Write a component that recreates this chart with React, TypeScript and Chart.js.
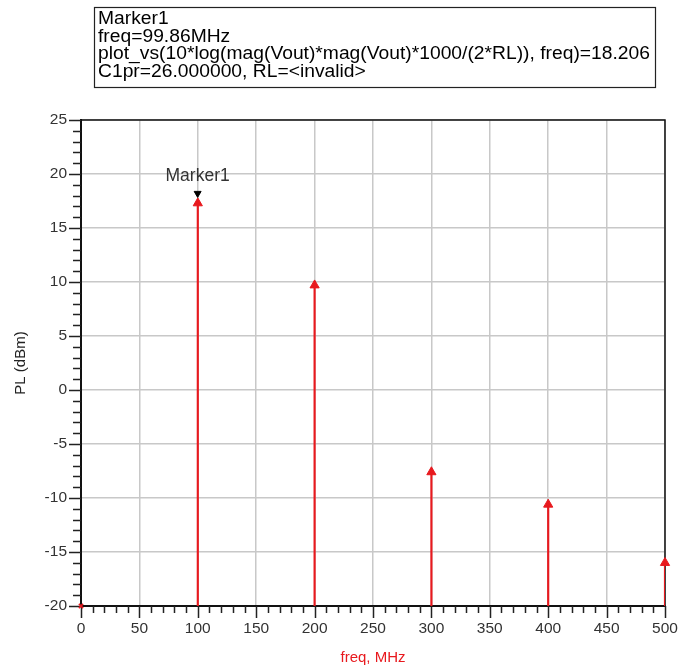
import React, { useEffect, useRef } from 'react';
import { Chart, registerables } from 'chart.js';

Chart.register(...registerables);

// ---- data ----
const freqMHz = [100, 200, 300, 400, 500];
const plDbm = [17.3, 9.7, -7.6, -10.6, -16.0];
const dcFreq = [0];
const dcPl = [-20];
const markerFreq = [99.86];
const markerPl = [18.206];
const markerName = 'Marker1';

const xMin = 0;
const xMax = 500;
const xStep = 50;
const xMinorStep = 10;
const yMin = -20;
const yMax = 25;
const yStep = 5;
const yMinorStep = 1;

const xTitle = 'freq, MHz';
const yTitle = 'PL (dBm)';

const legendLines = [
  'Marker1',
  'freq=99.86MHz',
  'plot_vs(10*log(mag(Vout)*mag(Vout)*1000/(2*RL)), freq)=18.206',
  'C1pr=26.000000, RL=<invalid>',
];

const FONT = '"Liberation Sans", Arial, sans-serif';
const RED = '#e8191e';

const decorPlugin = {
  id: 'decor',
  beforeDraw(chart: any) {
    const { ctx, width, height } = chart;
    ctx.save();
    ctx.fillStyle = '#ffffff';
    ctx.fillRect(0, 0, width, height);
    ctx.restore();
  },
  beforeDatasetsDraw(chart: any) {
    const { ctx, chartArea } = chart;
    const xs = chart.scales.x;
    const ys = chart.scales.y;
    ctx.save();
    // frame (top and right)
    ctx.strokeStyle = '#111';
    ctx.lineWidth = 1.5;
    ctx.beginPath();
    ctx.moveTo(chartArea.left, chartArea.top);
    ctx.lineTo(chartArea.right, chartArea.top);
    ctx.lineTo(chartArea.right, chartArea.bottom);
    ctx.stroke();

    // tick marks
    ctx.strokeStyle = '#222';
    ctx.lineWidth = 1.5;
    ctx.beginPath();
    for (let v = yMin; v <= yMax + 1e-9; v += yMinorStep) {
      const y = Math.round(ys.getPixelForValue(v)) + 0.5;
      const len = Math.abs(v % yStep) < 1e-9 ? 12 : 8;
      ctx.moveTo(chartArea.left - len, y);
      ctx.lineTo(chartArea.left, y);
    }
    for (let v = xMin; v <= xMax + 1e-9; v += xMinorStep) {
      const x = Math.round(xs.getPixelForValue(v)) + 0.5;
      const len = Math.abs(v % xStep) < 1e-9 ? 12 : 7;
      ctx.moveTo(x, chartArea.bottom);
      ctx.lineTo(x, chartArea.bottom + len);
    }
    ctx.stroke();
    ctx.restore();
  },
  afterDraw(chart: any) {
    const { ctx } = chart;
    const xs = chart.scales.x;
    ctx.save();
    // marker label
    const mx = xs.getPixelForValue(markerFreq[0]);
    ctx.fillStyle = '#333';
    ctx.font = `17.5px ${FONT}`;
    ctx.textAlign = 'center';
    ctx.textBaseline = 'middle';
    ctx.fillText(markerName, mx, 176);

    // legend box
    const bx = 94, by = 7, bw = 561, bh = 80;
    ctx.fillStyle = '#fff';
    ctx.fillRect(bx, by, bw, bh);
    ctx.strokeStyle = '#222';
    ctx.lineWidth = 1.2;
    ctx.strokeRect(bx + 0.5, by + 0.5, bw, bh);
    ctx.font = `17.5px ${FONT}`;
    ctx.fillStyle = '#000';
    ctx.textAlign = 'left';
    ctx.textBaseline = 'middle';
    const longest = Math.max(...legendLines.map((l) => ctx.measureText(l).width));
    const sx = 552 / longest;
    legendLines.forEach((line, i) => {
      ctx.save();
      ctx.translate(98, 19 + i * 17.7);
      ctx.scale(sx, 1);
      ctx.fillText(line, 0, 0);
      ctx.restore();
    });
    ctx.restore();
  },
};

export default function App() {
  const ref = useRef<HTMLCanvasElement | null>(null);

  useEffect(() => {
    document.body.style.margin = '0';
    document.body.style.overflow = 'hidden';
    const canvas = ref.current;
    if (!canvas) return;

    const chart = new Chart(canvas, {
      type: 'scatter',
      data: {
        datasets: [
          {
            type: 'bar',
            data: freqMHz.map((f, i) => ({ x: f, y: [yMin, plDbm[i]] })) as any,
            backgroundColor: RED,
            borderWidth: 0,
            barThickness: 1.5,
            order: 3,
          } as any,
          {
            type: 'scatter',
            data: freqMHz.map((f, i) => ({ x: f, y: plDbm[i] })),
            pointStyle: 'triangle',
            pointRadius: 5.3,
            pointBackgroundColor: RED,
            pointBorderColor: RED,
            pointBorderWidth: 1,
            clip: false,
            order: 2,
          } as any,
          {
            type: 'scatter',
            data: dcFreq.map((f, i) => ({ x: f, y: dcPl[i] })),
            pointStyle: 'crossRot',
            pointRadius: 3,
            pointBorderColor: RED,
            pointBorderWidth: 1.5,
            clip: false,
            order: 1,
          } as any,
          {
            type: 'scatter',
            data: markerFreq.map((f, i) => ({ x: f, y: markerPl[i] })),
            pointStyle: 'triangle',
            pointRotation: 180,
            pointRadius: 4,
            pointBackgroundColor: '#000',
            pointBorderColor: '#000',
            pointBorderWidth: 1,
            clip: false,
            order: 0,
          } as any,
        ],
      },
      options: {
        responsive: false,
        animation: false,
        events: [],
        layout: { padding: { top: 120, right: 0, left: 0, bottom: 0 } },
        plugins: {
          legend: { display: false },
          tooltip: { enabled: false },
        },
        scales: {
          x: {
            type: 'linear',
            min: xMin,
            max: xMax,
            offset: false,
            afterFit: (s: any) => {
              s.height = 62;
              s.paddingRight = 14;
              s.paddingLeft = 0;
            },
            ticks: {
              stepSize: xStep,
              color: '#333',
              font: { family: FONT, size: 15.5 },
              padding: 13,
              maxRotation: 0,
            },
            grid: {
              color: '#c8c8c8',
              lineWidth: 1.5,
              drawTicks: false,
              offset: false,
            },
            border: { color: '#111', width: 2 },
            title: {
              display: true,
              text: xTitle,
              color: RED,
              font: { family: FONT, size: 15 },
              padding: { top: 0, bottom: 1 },
            },
          },
          y: {
            type: 'linear',
            min: yMin,
            max: yMax,
            afterFit: (s: any) => {
              s.width = 81;
            },
            ticks: {
              stepSize: yStep,
              color: '#333',
              font: { family: FONT, size: 15.5 },
              padding: 14,
            },
            grid: {
              color: '#c8c8c8',
              lineWidth: 1.5,
              drawTicks: false,
            },
            border: { color: '#111', width: 2 },
            title: {
              display: true,
              text: yTitle,
              color: '#222',
              font: { family: FONT, size: 15 },
              padding: { top: 12, bottom: 0 },
            },
          },
        },
      } as any,
      plugins: [decorPlugin],
    });

    return () => chart.destroy();
  }, []);

  return (
    <div style={{ width: 679, height: 668 }}>
      <canvas ref={ref} width={679} height={668} style={{ display: 'block', width: 679, height: 668 }} />
    </div>
  );
}
